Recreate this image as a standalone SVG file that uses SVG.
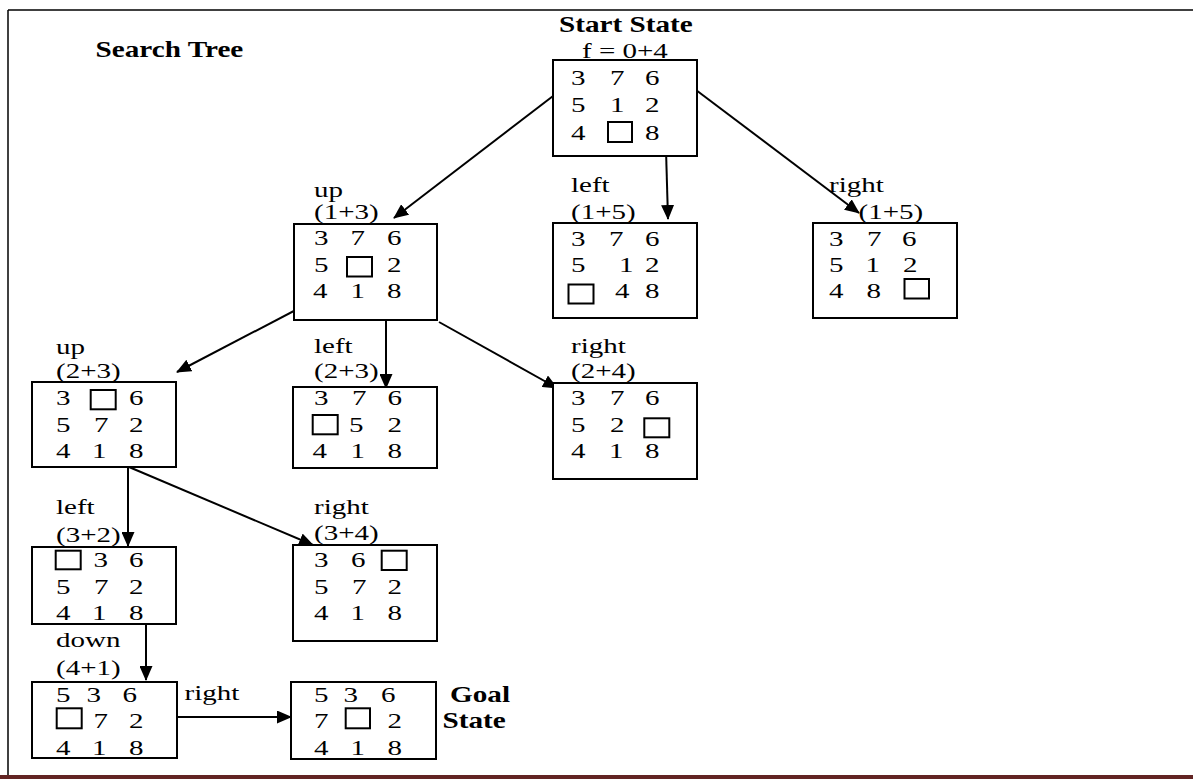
<svg xmlns="http://www.w3.org/2000/svg" width="1193" height="779" viewBox="0 0 1193 779">
<style>
  .r { font-family: "Liberation Serif", "Times New Roman", serif; font-size: 21px; fill: #000; }
  .b { font-family: "Liberation Serif", "Times New Roman", serif; font-size: 23px; font-weight: bold; fill: #000; }
  .box { fill: #fff; stroke: #000; stroke-width: 2; }
  .gap { fill: none; stroke: #000; stroke-width: 2; }
  .edge { fill: none; stroke: #000; stroke-width: 2; marker-end: url(#head); }
</style>
<defs>
  <marker id="head" viewBox="0 0 15 13" refX="14" refY="6.5" markerWidth="15" markerHeight="13" markerUnits="userSpaceOnUse" orient="auto">
    <path d="M0,0 L15,6.5 L0,13 z" fill="#000"/>
  </marker>
</defs>
<rect width="1193" height="779" fill="#fff"/>

<!-- page frame -->
<g id="frame">
  <line x1="8" y1="10" x2="1193" y2="10" stroke="#000" stroke-width="1.5"/>
  <line x1="8" y1="10" x2="8" y2="775" stroke="#000" stroke-width="1.5"/>
  <rect x="0" y="775" width="1193" height="4" fill="#622423"/>
</g>

<text class="b" transform="translate(95.5 57) scale(1.27 1)">Search Tree</text>

<!-- connectors -->
<g id="connectors">
  <line class="edge" x1="557" y1="93" x2="394" y2="218"/>
  <line class="edge" x1="666" y1="150" x2="668" y2="219"/>
  <line class="edge" x1="692" y1="87" x2="859" y2="213"/>
  <line class="edge" x1="311" y1="302" x2="177" y2="372"/>
  <line class="edge" x1="386" y1="312" x2="386" y2="388"/>
  <line class="edge" x1="439" y1="322" x2="557" y2="388"/>
  <line class="edge" x1="128" y1="467" x2="128" y2="546"/>
  <line class="edge" x1="129" y1="467" x2="313" y2="545"/>
  <line class="edge" x1="146" y1="625" x2="146" y2="680"/>
  <line class="edge" x1="172" y1="717" x2="291" y2="717"/>
</g>

<!-- start state -->
<g id="start">
  <text class="b" transform="translate(559 32) scale(1.27 1)">Start State</text>
  <text class="r" transform="translate(582 58) scale(1.38 1)">f = 0+4</text>
  <rect class="box" x="553" y="60" width="144" height="96"/>
  <text class="r" transform="translate(571 85) scale(1.38 1)">3</text>
  <text class="r" transform="translate(610 85) scale(1.38 1)">7</text>
  <text class="r" transform="translate(645 85) scale(1.38 1)">6</text>
  <text class="r" transform="translate(571 111.5) scale(1.38 1)">5</text>
  <text class="r" transform="translate(610 111.5) scale(1.38 1)">1</text>
  <text class="r" transform="translate(645 111.5) scale(1.38 1)">2</text>
  <text class="r" transform="translate(571 140) scale(1.38 1)">4</text>
  <rect class="gap" x="608" y="122" width="24" height="20"/>
  <text class="r" transform="translate(645 140) scale(1.38 1)">8</text>
</g>

<!-- up (1+3) -->
<g id="n-up1">
  <text class="r" transform="translate(314 196.5) scale(1.38 1)">up</text>
  <text class="r" transform="translate(314 219) scale(1.38 1)">(1+3)</text>
  <rect class="box" x="294" y="224" width="143" height="96"/>
  <text class="r" transform="translate(314 245) scale(1.38 1)">3</text>
  <text class="r" transform="translate(350.5 245) scale(1.38 1)">7</text>
  <text class="r" transform="translate(387 245) scale(1.38 1)">6</text>
  <text class="r" transform="translate(314 271.5) scale(1.38 1)">5</text>
  <rect class="gap" x="347" y="257" width="25" height="19.5"/>
  <text class="r" transform="translate(387 271.5) scale(1.38 1)">2</text>
  <text class="r" transform="translate(313 298) scale(1.38 1)">4</text>
  <text class="r" transform="translate(350.5 298) scale(1.38 1)">1</text>
  <text class="r" transform="translate(387 298) scale(1.38 1)">8</text>
</g>

<!-- left (1+5) -->
<g id="n-left1">
  <text class="r" transform="translate(571 191.5) scale(1.38 1)">left</text>
  <text class="r" transform="translate(571 219) scale(1.38 1)">(1+5)</text>
  <rect class="box" x="553" y="223" width="144" height="95"/>
  <text class="r" transform="translate(571 246) scale(1.38 1)">3</text>
  <text class="r" transform="translate(609 246) scale(1.38 1)">7</text>
  <text class="r" transform="translate(645 246) scale(1.38 1)">6</text>
  <text class="r" transform="translate(571 271.5) scale(1.38 1)">5</text>
  <text class="r" transform="translate(619 271.5) scale(1.38 1)">1</text>
  <text class="r" transform="translate(645 271.5) scale(1.38 1)">2</text>
  <rect class="gap" x="568.5" y="284.5" width="25" height="19"/>
  <text class="r" transform="translate(615 298) scale(1.38 1)">4</text>
  <text class="r" transform="translate(645 298) scale(1.38 1)">8</text>
</g>

<!-- right (1+5) -->
<g id="n-right1">
  <text class="r" transform="translate(829 191.5) scale(1.38 1)">right</text>
  <text class="r" transform="translate(858.5 219) scale(1.38 1)">(1+5)</text>
  <rect class="box" x="813" y="223" width="144" height="95"/>
  <text class="r" transform="translate(829 246) scale(1.38 1)">3</text>
  <text class="r" transform="translate(867 246) scale(1.38 1)">7</text>
  <text class="r" transform="translate(902 246) scale(1.38 1)">6</text>
  <text class="r" transform="translate(829 271.5) scale(1.38 1)">5</text>
  <text class="r" transform="translate(865.5 271.5) scale(1.38 1)">1</text>
  <text class="r" transform="translate(903 271.5) scale(1.38 1)">2</text>
  <text class="r" transform="translate(829 298) scale(1.38 1)">4</text>
  <text class="r" transform="translate(866.5 298) scale(1.38 1)">8</text>
  <rect class="gap" x="904.5" y="279" width="24.5" height="19.5"/>
</g>

<!-- up (2+3) -->
<g id="n-up2">
  <text class="r" transform="translate(56 354) scale(1.38 1)">up</text>
  <text class="r" transform="translate(56 378) scale(1.38 1)">(2+3)</text>
  <rect class="box" x="32" y="382" width="144" height="85"/>
  <text class="r" transform="translate(56 405) scale(1.38 1)">3</text>
  <rect class="gap" x="90.7" y="390" width="25" height="19.3"/>
  <text class="r" transform="translate(129 405) scale(1.38 1)">6</text>
  <text class="r" transform="translate(56 431.5) scale(1.38 1)">5</text>
  <text class="r" transform="translate(94 431.5) scale(1.38 1)">7</text>
  <text class="r" transform="translate(129 431.5) scale(1.38 1)">2</text>
  <text class="r" transform="translate(56 458) scale(1.38 1)">4</text>
  <text class="r" transform="translate(92 458) scale(1.38 1)">1</text>
  <text class="r" transform="translate(129 458) scale(1.38 1)">8</text>
</g>

<!-- left (2+3) -->
<g id="n-left2">
  <text class="r" transform="translate(314 352.5) scale(1.38 1)">left</text>
  <text class="r" transform="translate(314 378) scale(1.38 1)">(2+3)</text>
  <rect class="box" x="293" y="387" width="144" height="81"/>
  <text class="r" transform="translate(314 405) scale(1.38 1)">3</text>
  <text class="r" transform="translate(352 405) scale(1.38 1)">7</text>
  <text class="r" transform="translate(387.5 405) scale(1.38 1)">6</text>
  <rect class="gap" x="312.7" y="415" width="25" height="19.3"/>
  <text class="r" transform="translate(349 431.5) scale(1.38 1)">5</text>
  <text class="r" transform="translate(387.5 431.5) scale(1.38 1)">2</text>
  <text class="r" transform="translate(312.5 458) scale(1.38 1)">4</text>
  <text class="r" transform="translate(350.5 458) scale(1.38 1)">1</text>
  <text class="r" transform="translate(387.5 458) scale(1.38 1)">8</text>
</g>

<!-- right (2+4) -->
<g id="n-right2">
  <text class="r" transform="translate(571 352.5) scale(1.38 1)">right</text>
  <text class="r" transform="translate(571 378) scale(1.38 1)">(2+4)</text>
  <rect class="box" x="553" y="383" width="144" height="96"/>
  <text class="r" transform="translate(571 405) scale(1.38 1)">3</text>
  <text class="r" transform="translate(610 405) scale(1.38 1)">7</text>
  <text class="r" transform="translate(645 405) scale(1.38 1)">6</text>
  <text class="r" transform="translate(571 431.5) scale(1.38 1)">5</text>
  <text class="r" transform="translate(610 431.5) scale(1.38 1)">2</text>
  <rect class="gap" x="644.3" y="418.3" width="25" height="19"/>
  <text class="r" transform="translate(571 458) scale(1.38 1)">4</text>
  <text class="r" transform="translate(609 458) scale(1.38 1)">1</text>
  <text class="r" transform="translate(645 458) scale(1.38 1)">8</text>
</g>

<!-- left (3+2) -->
<g id="n-left3">
  <text class="r" transform="translate(56 513.5) scale(1.38 1)">left</text>
  <text class="r" transform="translate(56 541.5) scale(1.38 1)">(3+2)</text>
  <rect class="box" x="32" y="547" width="144" height="77"/>
  <rect class="gap" x="55.7" y="550.7" width="25" height="18.6"/>
  <text class="r" transform="translate(93.5 567) scale(1.38 1)">3</text>
  <text class="r" transform="translate(129 567) scale(1.38 1)">6</text>
  <text class="r" transform="translate(56 593.5) scale(1.38 1)">5</text>
  <text class="r" transform="translate(94 593.5) scale(1.38 1)">7</text>
  <text class="r" transform="translate(129 593.5) scale(1.38 1)">2</text>
  <text class="r" transform="translate(56 620) scale(1.38 1)">4</text>
  <text class="r" transform="translate(92 620) scale(1.38 1)">1</text>
  <text class="r" transform="translate(129 620) scale(1.38 1)">8</text>
</g>

<!-- right (3+4) -->
<g id="n-right3">
  <text class="r" transform="translate(314 513.5) scale(1.38 1)">right</text>
  <text class="r" transform="translate(314 540) scale(1.38 1)">(3+4)</text>
  <rect class="box" x="293" y="545" width="144" height="96"/>
  <text class="r" transform="translate(314 567) scale(1.38 1)">3</text>
  <text class="r" transform="translate(351 567) scale(1.38 1)">6</text>
  <rect class="gap" x="381.7" y="550.7" width="25" height="19.3"/>
  <text class="r" transform="translate(314 593.5) scale(1.38 1)">5</text>
  <text class="r" transform="translate(352 593.5) scale(1.38 1)">7</text>
  <text class="r" transform="translate(387.5 593.5) scale(1.38 1)">2</text>
  <text class="r" transform="translate(314 620) scale(1.38 1)">4</text>
  <text class="r" transform="translate(350.5 620) scale(1.38 1)">1</text>
  <text class="r" transform="translate(387.5 620) scale(1.38 1)">8</text>
</g>

<!-- down (4+1) -->
<g id="n-down">
  <text class="r" transform="translate(56 646.5) scale(1.38 1)">down</text>
  <text class="r" transform="translate(56 675) scale(1.38 1)">(4+1)</text>
  <rect class="box" x="32" y="682" width="145" height="76"/>
  <text class="r" transform="translate(56 701.5) scale(1.38 1)">5</text>
  <text class="r" transform="translate(86.5 701.5) scale(1.38 1)">3</text>
  <text class="r" transform="translate(122.5 701.5) scale(1.38 1)">6</text>
  <rect class="gap" x="56.7" y="708.3" width="25" height="20"/>
  <text class="r" transform="translate(93.5 728) scale(1.38 1)">7</text>
  <text class="r" transform="translate(129 728) scale(1.38 1)">2</text>
  <text class="r" transform="translate(56 755) scale(1.38 1)">4</text>
  <text class="r" transform="translate(92 755) scale(1.38 1)">1</text>
  <text class="r" transform="translate(129 755) scale(1.38 1)">8</text>
  <text class="r" transform="translate(184.5 700) scale(1.38 1)">right</text>
</g>

<!-- goal state -->
<g id="goal">
  <rect class="box" x="291" y="682" width="145" height="77"/>
  <text class="r" transform="translate(314 701.5) scale(1.38 1)">5</text>
  <text class="r" transform="translate(343.5 701.5) scale(1.38 1)">3</text>
  <text class="r" transform="translate(381 701.5) scale(1.38 1)">6</text>
  <text class="r" transform="translate(314 728) scale(1.38 1)">7</text>
  <rect class="gap" x="345.7" y="708.3" width="24.3" height="20"/>
  <text class="r" transform="translate(387.5 728) scale(1.38 1)">2</text>
  <text class="r" transform="translate(314 755) scale(1.38 1)">4</text>
  <text class="r" transform="translate(350.5 755) scale(1.38 1)">1</text>
  <text class="r" transform="translate(387.5 755) scale(1.38 1)">8</text>
  <text class="b" transform="translate(450 701.5) scale(1.27 1)">Goal</text>
  <text class="b" transform="translate(442.5 728) scale(1.27 1)">State</text>
</g>
</svg>
